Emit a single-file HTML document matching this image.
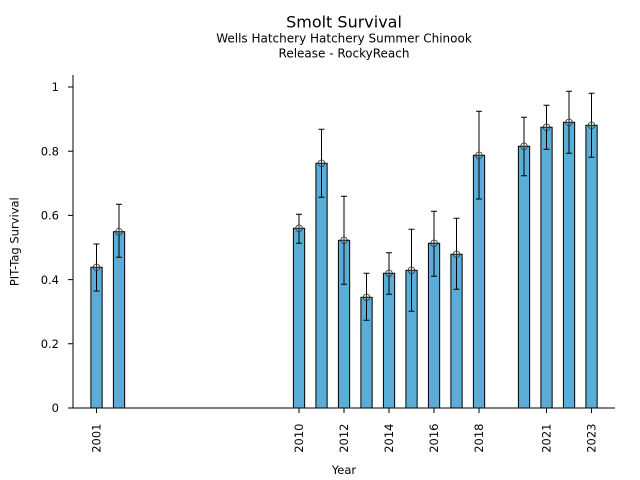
<!DOCTYPE html>
<html><head><meta charset="utf-8"><style>
html,body{margin:0;padding:0;background:#fff;}
svg{display:block;}
text{font-family:"DejaVu Sans","Liberation Sans",sans-serif;fill:#000;}
</style></head><body>
<svg width="640" height="480" viewBox="0 0 640 480" xmlns="http://www.w3.org/2000/svg">
<rect width="640" height="480" fill="#fff"/>
<text x="344" y="27.7" font-size="16" text-anchor="middle">Smolt Survival</text>
<text x="344" y="42.7" font-size="12" text-anchor="middle">Wells Hatchery Hatchery Summer Chinook</text>
<text x="344" y="57.3" font-size="12" text-anchor="middle">Release - RockyReach</text>

<g fill="#5aadd6" stroke="#000" stroke-width="1">
<rect x="90.9" y="267.3" width="11.25" height="140.7"/>
<rect x="113.4" y="231.7" width="11.25" height="176.3"/>
<rect x="293.4" y="228.3" width="11.25" height="179.7"/>
<rect x="315.9" y="163.3" width="11.25" height="244.7"/>
<rect x="338.4" y="240.3" width="11.25" height="167.7"/>
<rect x="360.9" y="297.3" width="11.25" height="110.7"/>
<rect x="383.4" y="273.3" width="11.25" height="134.7"/>
<rect x="405.9" y="270.3" width="11.25" height="137.7"/>
<rect x="428.4" y="243.3" width="11.25" height="164.7"/>
<rect x="450.9" y="254.3" width="11.25" height="153.7"/>
<rect x="473.4" y="155.3" width="11.25" height="252.7"/>
<rect x="518.4" y="146.3" width="11.25" height="261.7"/>
<rect x="540.9" y="127.3" width="11.25" height="280.7"/>
<rect x="563.4" y="122.3" width="11.25" height="285.7"/>
<rect x="585.9" y="125.3" width="11.25" height="282.7"/>
</g>

<g stroke="#000" stroke-width="1" fill="none">
<path d="M96.5 244V291M93.5 244H99.5M93.5 291H99.5"/>
<path d="M119 204.3V257.3M116 204.3H122M116 257.3H122"/>
<path d="M299 214.3V243.3M296 214.3H302M296 243.3H302"/>
<path d="M321.5 129.3V197.3M318.5 129.3H324.5M318.5 197.3H324.5"/>
<path d="M344 196.3V284.3M341 196.3H347M341 284.3H347"/>
<path d="M366.5 273.3V320.3M363.5 273.3H369.5M363.5 320.3H369.5"/>
<path d="M389 252.7V294.3M386 252.7H392M386 294.3H392"/>
<path d="M411.5 229.3V311.3M408.5 229.3H414.5M408.5 311.3H414.5"/>
<path d="M434 211.3V276.3M431 211.3H437M431 276.3H437"/>
<path d="M456.5 218.3V289.3M453.5 218.3H459.5M453.5 289.3H459.5"/>
<path d="M479 111.3V199M476 111.3H482M476 199H482"/>
<path d="M524 117.3V175.7M521 117.3H527M521 175.7H527"/>
<path d="M546.5 105.3V149.3M543.5 105.3H549.5M543.5 149.3H549.5"/>
<path d="M569 91.3V153.3M566 91.3H572M566 153.3H572"/>
<path d="M591.5 93.3V157.3M588.5 93.3H594.5M588.5 157.3H594.5"/>
</g>

<g stroke="#333" stroke-width="0.8" fill="none">
<circle cx="96.5" cy="267.3" r="3.3"/><path d="M93.2 267.3H99.8M96.5 264V270.6"/>
<circle cx="119" cy="231.7" r="3.3"/><path d="M115.7 231.7H122.3M119 228.4V235"/>
<circle cx="299" cy="228.3" r="3.3"/><path d="M295.7 228.3H302.3M299 225V231.6"/>
<circle cx="321.5" cy="163.3" r="3.3"/><path d="M318.2 163.3H324.8M321.5 160V166.6"/>
<circle cx="344" cy="240.3" r="3.3"/><path d="M340.7 240.3H347.3M344 237V243.6"/>
<circle cx="366.5" cy="297.3" r="3.3"/><path d="M363.2 297.3H369.8M366.5 294V300.6"/>
<circle cx="389" cy="273.3" r="3.3"/><path d="M385.7 273.3H392.3M389 270V276.6"/>
<circle cx="411.5" cy="270.3" r="3.3"/><path d="M408.2 270.3H414.8M411.5 267V273.6"/>
<circle cx="434" cy="243.3" r="3.3"/><path d="M430.7 243.3H437.3M434 240V246.6"/>
<circle cx="456.5" cy="254.3" r="3.3"/><path d="M453.2 254.3H459.8M456.5 251V257.6"/>
<circle cx="479" cy="155.3" r="3.3"/><path d="M475.7 155.3H482.3M479 152V158.6"/>
<circle cx="524" cy="146.3" r="3.3"/><path d="M520.7 146.3H527.3M524 143V149.6"/>
<circle cx="546.5" cy="127.3" r="3.3"/><path d="M543.2 127.3H549.8M546.5 124V130.6"/>
<circle cx="569" cy="122.3" r="3.3"/><path d="M565.7 122.3H572.3M569 119V125.6"/>
<circle cx="591.5" cy="125.3" r="3.3"/><path d="M588.2 125.3H594.8M591.5 122V128.6"/>
</g>

<!-- spines -->
<g stroke="#000" stroke-width="1" fill="none">
<path d="M73 75V408.5M72.5 408H615"/>
<!-- y ticks -->
<path d="M68 408H73M68 343.8H73M68 279.6H73M68 215.4H73M68 151.2H73M68 87H73"/>
<!-- x ticks -->
<path d="M96.5 408V413M299 408V413M344 408V413M389 408V413M434 408V413M479 408V413M546.5 408V413M591.5 408V413"/>
</g>

<g font-size="11.5" text-anchor="end">
<text x="59" y="412.2">0</text>
<text x="59" y="348">0.2</text>
<text x="59" y="283.8">0.4</text>
<text x="59" y="219.6">0.6</text>
<text x="59" y="155.4">0.8</text>
<text x="59" y="91.2">1</text>
</g>

<g font-size="11.5" text-anchor="end">
<text transform="translate(100.7,423.5) rotate(-90)">2001</text>
<text transform="translate(303.2,423.5) rotate(-90)">2010</text>
<text transform="translate(348.2,423.5) rotate(-90)">2012</text>
<text transform="translate(393.2,423.5) rotate(-90)">2014</text>
<text transform="translate(438.2,423.5) rotate(-90)">2016</text>
<text transform="translate(483.2,423.5) rotate(-90)">2018</text>
<text transform="translate(550.7,423.5) rotate(-90)">2021</text>
<text transform="translate(595.7,423.5) rotate(-90)">2023</text>
</g>

<text x="344" y="474" font-size="11.5" text-anchor="middle">Year</text>
<text transform="translate(18.6,241.7) rotate(-90)" font-size="11.5" text-anchor="middle">PIT-Tag Survival</text>
</svg>
</body></html>
